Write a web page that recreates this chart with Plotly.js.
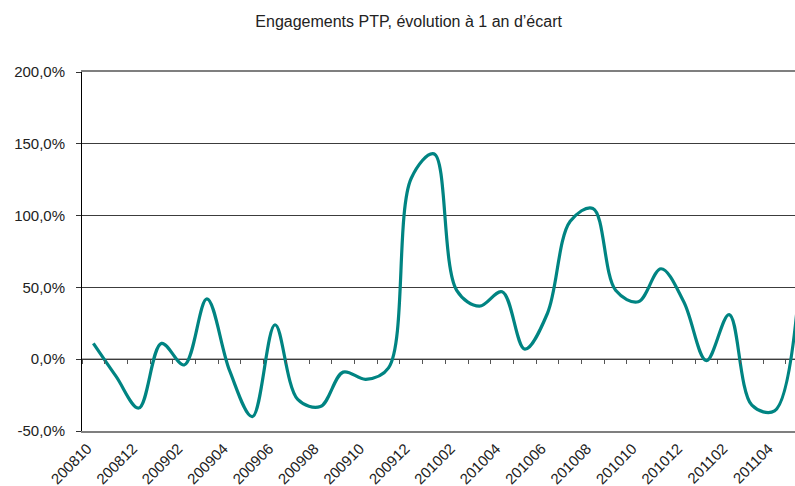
<!DOCTYPE html>
<html>
<head>
<meta charset="utf-8">
<script src="https://cdn.plot.ly/plotly-3.0.1.min.js"></script>
<style>
  body { margin: 0; background: #fff; }
  #plotArea { width: 795px; height: 486px; }
</style>
</head>
<body>
<div id="plotArea"></div>
<script>
// months, one point each (YYYYMM)
var months = ['200810', '200811', '200812', '200901', '200902', '200903', '200904', '200905',
    '200906', '200907', '200908', '200909', '200910', '200911', '200912', '201001',
    '201002', '201003', '201004', '201005', '201006', '201007', '201008', '201009',
    '201010', '201011', '201012', '201101', '201102', '201103', '201104', '201105'];

// evolution in %
var evolution = [11, -12, -34, 11, -4, 42, -8, -40,
    24, -28, -33, -9, -14, -6, 126, 143,
    48, 37, 47, 7, 32, 96, 105, 48,
    40, 63, 40, -1, 31, -32, -36, 36];

// only every second month gets a label
var tickLabels = months.filter((m, i) => i % 2 == 0);

var yTicks = [-50, 0, 50, 100, 150, 200];
var yTickText = yTicks.map(v => v.toFixed(1).replace('.', ',') + '%');

// category index of each month, for the tick axis on the 0% line
var monthIdx = months.map((m, i) => i);

var trace = {
    x: months,
    y: evolution,
    type: "scatter",
    mode: "lines",
    line: {color: "#008482", width: 3.2, shape: "spline", smoothing: 1},
    hoverinfo: "skip"
};

// faint copy on the tick axis that sits on the 0% line
var zeroTrace = {
    x: monthIdx,
    y: evolution,
    xaxis: "x2",
    yaxis: "y",
    type: "scatter",
    mode: "lines",
    line: {color: "rgba(0,132,130,0.01)", width: 1, shape: "spline"},
    showlegend: false,
    hoverinfo: "skip"
};

var xRange = [-0.5, months.length - 1.1];
var yRange = [-50, 200];

var layout = {
    width: 795,
    height: 486,
    margin: {l: 82, r: 0, t: 72, b: 55},
    paper_bgcolor: "#fff",
    plot_bgcolor: "#fff",
    showlegend: false,
    title: {
        text: "Engagements PTP, évolution à 1 an d’écart",
        font: {family: "Liberation Sans, Arial, sans-serif", size: 16, color: "#222"},
        x: 0.514, xref: "container", xanchor: "center",
        y: 0.955, yref: "container", yanchor: "middle"
    },
    // the 0% axis line (category axis crosses there)
    shapes: [{
        type: "line", layer: "below",
        xref: "paper", x0: 0, x1: 1,
        yref: "y", y0: 0, y1: 0,
        line: {color: "#000", width: 1}
    }],
    xaxis: {
        type: "category",
        categoryorder: "array",
        categoryarray: months,
        range: xRange,
        tickmode: "array",
        tickvals: tickLabels,
        ticktext: tickLabels,
        tickangle: -45,
        ticks: "",
        ticklabelstandoff: 1,
        ticklabelshift: -6,
        tickfont: {family: "Liberation Sans, Arial, sans-serif", size: 15, color: "#222"},
        showline: true,
        mirror: true,
        linecolor: "#7f7f7f",
        linewidth: 2,
        showgrid: false,
        zeroline: false,
        fixedrange: true
    },
    xaxis2: {
        type: "linear",
        overlaying: "x",
        anchor: "free",
        position: 0.2,
        side: "bottom",
        range: xRange,
        tickmode: "array",
        tickvals: monthIdx.map(i => i - 0.5),
        ticktext: monthIdx.map(i => ""),
        ticks: "outside",
        ticklen: 4,
        tickcolor: "#555",
        tickwidth: 1,
        showline: false,
        showgrid: false,
        zeroline: false,
        fixedrange: true
    },
    yaxis: {
        range: yRange,
        tickmode: "array",
        tickvals: yTicks,
        ticktext: yTickText,
        ticks: "outside",
        ticklen: 5,
        tickcolor: "#333",
        ticklabelstandoff: 8,
        tickfont: {family: "Liberation Sans, Arial, sans-serif", size: 15, color: "#222"},
        showline: true,
        linecolor: "#000",
        linewidth: 1,
        showgrid: true,
        gridcolor: "#3c3c3c",
        gridwidth: 1,
        zeroline: false,
        fixedrange: true
    }
};

Plotly.newPlot("plotArea", [trace, zeroTrace], layout, {staticPlot: true, displayModeBar: false});
</script>
</body>
</html>
